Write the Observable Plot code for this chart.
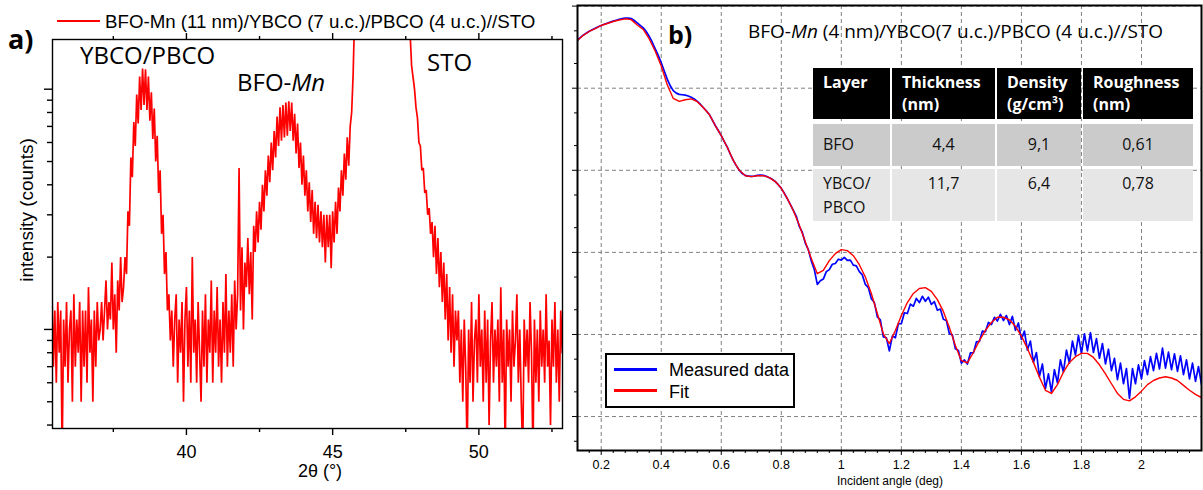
<!DOCTYPE html>
<html>
<head>
<meta charset="utf-8">
<script src="https://cdn.jsdelivr.net/npm/d3@7"></script>
<script src="https://cdn.jsdelivr.net/npm/@observablehq/plot@0.6"></script>
<style>
  html, body { margin: 0; padding: 0; background: #fff; }
  #root { position: relative; width: 1203px; height: 490px; overflow: hidden; background: #fff; }
  .t { position: absolute; white-space: nowrap; line-height: 1; color: #000; }
  .arial { font-family: "Liberation Sans", Arial, sans-serif; }
  .os { font-family: "Open Sans", sans-serif; }
  .plot { position: absolute; top: 0; }
  .cell { position: absolute; box-sizing: border-box; font-family: "Open Sans", sans-serif; font-size: 16px; white-space: nowrap; }
</style>
</head>
<body>
<div id="root"></div>
<script>
// ---------------- Panel a: XRD scan (log intensity) ----------------
const xrdStart = 35.40;   // 2θ of first sample (°)
const xrdStep = 0.05;     // 2θ sampling step (°)
const xrdCounts = [
  // 35.40 – 37.00 background
  15, 7, 12, 6, 13, 8, 12, 3, 11, 7, 13, 6, 10, 12, 5, 14, 7, 11, 8, 13, 5, 12, 7, 12, 6, 15, 8, 11, 5, 12, 7, 13, 9,
  // 37.05 – 37.85
  10, 13, 9, 12, 16, 10, 13, 11, 19, 10, 14, 8, 16, 12, 20, 13, 15,
  // 37.90 – 39.45 YBCO/PBCO peak
  20, 17, 31, 27, 52, 43, 73, 58, 95, 72, 113, 82, 122, 86, 121, 82, 113, 74, 97, 62, 83, 50, 64, 37, 46, 25, 30, 17, 21, 12, 14, 9,
  // 39.50 – 41.70 background
  12, 7, 11, 14, 6, 11, 8, 13, 5, 11, 15, 7, 12, 6, 20, 8, 11, 6, 13, 8, 5, 12, 7, 14, 6, 11, 8, 16, 6, 12, 8, 15, 7, 11, 6, 13, 8, 17, 7, 12, 8, 14, 7, 16, 10,
  // 41.75 – 41.80 spike
  14, 47,
  // 41.85 – 42.25
  12, 22, 10, 19, 15, 24, 14, 21, 11,
  // 42.30 – 45.65 BFO-Mn peak
  27, 21, 31, 23, 34, 26, 40, 31, 46, 36, 53, 41, 60, 46, 67, 52, 77, 58, 84, 61, 86, 63, 88, 64, 89, 67, 88, 61, 79, 54, 72, 47, 60, 40, 53, 36, 46, 31, 41, 28, 38, 25, 34, 24, 33, 23, 31, 22, 30, 19, 30, 22, 30, 18, 31, 23, 34, 25, 39, 31, 46, 36, 54, 42, 63, 48, 70, 80,
  // 45.70 – 47.65 STO substrate peak
  115, 200, 800, 4000, 8000, 12000, 16000, 20000, 25000, 30000, 36000, 42000, 50000, 58000, 65000, 70000, 72000, 70000, 65000, 58000, 50000, 42000, 35000, 28000, 22000, 17000, 13000, 10000, 7500, 5500, 4000, 2800, 1900, 1300, 900, 600, 420, 300, 230, 170,
  // 47.70 – 49.25 STO tail
  125, 112, 100, 84, 76, 60, 58, 46, 47, 37, 38, 30, 32, 25, 28, 20, 27, 17, 24, 15, 21, 13, 19, 11, 17, 9, 15, 8, 14, 7, 12, 9,
  // 49.30 – 52.85 background
  12, 6, 10, 5, 11, 7, 3, 10, 6, 13, 5, 9, 11, 6, 14, 7, 10, 5, 12, 6, 11, 4, 9, 13, 6, 10, 7, 11, 5, 15, 6, 10, 3, 11, 7, 10, 5, 12, 7, 9, 14, 6, 10, 5, 3, 11, 7, 10, 6, 13, 8, 3, 11, 6, 10, 5, 12, 7, 10, 6, 14, 7, 9, 4, 11, 7, 13, 6, 10, 5, 12, 8
];
const xrdXMajorTicks = [40, 45, 50];
const xrdXMinorTicks = [37.5, 42.5, 47.5, 52.5];
const xrdYMajorTicks = [10, 100];
const xrdYMinorTicks = [4, 5, 6, 7, 8, 9, 20, 30, 40, 50, 60, 70, 80, 90];
const xrdLegend = "BFO-Mn (11 nm)/YBCO (7 u.c.)/PBCO (4 u.c.)//STO";
const xrdXTitle = "2θ (°)";
const xrdYTitle = "intensity (counts)";
const xrdPeakLabels = ["YBCO/PBCO", "BFO-", "Mn", "STO"];

// ---------------- Panel b: X-ray reflectivity ----------------
const xrrStart = 0.12;       // incident angle of first sample (deg)
const measuredStep = 0.01;
const fitStep = 0.02;
const measuredR = [
  3.81e-1, 4.12e-1, 4.42e-1, 4.68e-1, 4.93e-1, 5.15e-1, 5.37e-1, 5.60e-1, 5.81e-1, 6.00e-1,
  6.19e-1, 6.38e-1, 6.56e-1, 6.73e-1, 6.89e-1, 7.03e-1, 7.13e-1, 7.16e-1, 7.05e-1, 6.68e-1,
  6.24e-1, 5.82e-1, 5.43e-1, 4.90e-1, 4.27e-1, 3.63e-1, 3.02e-1, 2.51e-1, 2.04e-1, 1.62e-1,
  1.29e-1, 1.07e-1, 9.33e-2, 8.71e-2, 8.41e-2, 8.32e-2, 8.22e-2, 8.04e-2, 7.76e-2, 7.41e-2,
  6.92e-2, 6.38e-2, 5.82e-2, 5.31e-2, 4.79e-2, 4.12e-2, 3.51e-2, 3.05e-2, 2.64e-2, 2.24e-2,
  1.91e-2, 1.58e-2, 1.32e-2, 1.14e-2, 1.00e-2, 9.12e-3, 8.67e-3, 8.47e-3, 8.41e-3, 8.51e-3,
  8.67e-3, 8.75e-3, 8.67e-3, 8.47e-3, 8.13e-3, 7.76e-3, 7.29e-3, 6.68e-3, 6.03e-3, 5.25e-3,
  4.52e-3, 3.85e-3, 3.24e-3, 2.75e-3, 2.07e-3, 1.75e-3, 1.30e-3, 1.08e-3, 7.85e-4, 6.17e-4,
  4.07e-4, 4.52e-4, 4.73e-4, 5.82e-4, 6.17e-4, 7.16e-4, 7.33e-4, 8.26e-4, 8.04e-4, 8.71e-4,
  8.00e-4, 8.04e-4, 7.00e-4, 6.84e-4, 5.82e-4, 5.31e-4, 4.07e-4, 3.72e-4, 2.72e-4, 2.45e-4,
  1.64e-4, 1.51e-4, 9.33e-5, 9.12e-5, 6.31e-5, 9.55e-5, 9.12e-5, 1.35e-4, 1.35e-4, 1.84e-4,
  1.80e-4, 2.34e-4, 2.21e-4, 2.75e-4, 2.45e-4, 2.92e-4, 2.54e-4, 2.85e-4, 2.32e-4, 2.51e-4,
  1.97e-4, 2.04e-4, 1.53e-4, 1.48e-4, 1.02e-4, 9.89e-5, 6.68e-5, 6.38e-5, 4.47e-5, 4.90e-5,
  4.37e-5, 5.96e-5, 5.96e-5, 8.13e-5, 8.22e-5, 1.10e-4, 1.08e-4, 1.40e-4, 1.32e-4, 1.62e-4,
  1.46e-4, 1.76e-4, 1.48e-4, 1.70e-4, 1.32e-4, 1.66e-4, 1.12e-4, 1.38e-4, 8.71e-5, 1.10e-4,
  6.46e-5, 8.32e-5, 4.57e-5, 6.03e-5, 3.09e-5, 4.37e-5, 2.19e-5, 3.31e-5, 2.00e-5, 3.72e-5,
  2.57e-5, 4.90e-5, 3.47e-5, 6.46e-5, 4.47e-5, 8.32e-5, 5.62e-5, 9.77e-5, 5.89e-5, 1.02e-4,
  6.31e-5, 1.05e-4, 6.03e-5, 8.91e-5, 5.13e-5, 7.76e-5, 4.37e-5, 6.61e-5, 3.63e-5, 5.13e-5,
  2.82e-5, 4.47e-5, 2.51e-5, 3.85e-5, 1.66e-5, 3.85e-5, 2.51e-5, 4.27e-5, 2.88e-5, 4.79e-5,
  3.24e-5, 5.37e-5, 3.63e-5, 5.89e-5, 3.80e-5, 6.84e-5, 3.89e-5, 6.10e-5, 3.72e-5, 5.82e-5,
  3.55e-5, 5.50e-5, 3.24e-5, 4.90e-5, 2.88e-5, 4.47e-5, 2.69e-5, 4.07e-5, 2.45e-5
];
const fitR = [
  3.81e-1, 4.39e-1, 4.91e-1, 5.33e-1, 5.81e-1, 6.14e-1, 6.49e-1, 6.78e-1, 7.00e-1, 6.84e-1,
  5.89e-1, 5.19e-1, 3.98e-1, 2.82e-1, 1.86e-1, 1.10e-1, 7.50e-2, 6.92e-2, 7.24e-2, 7.41e-2,
  6.84e-2, 5.82e-2, 4.79e-2, 3.51e-2, 2.64e-2, 1.91e-2, 1.32e-2, 1.00e-2, 8.59e-3, 8.38e-3,
  8.59e-3, 8.59e-3, 8.13e-3, 7.29e-3, 6.03e-3, 4.52e-3, 3.24e-3, 2.14e-3, 1.35e-3, 8.41e-4,
  5.50e-4, 6.03e-4, 7.94e-4, 9.66e-4, 1.08e-3, 1.05e-3, 9.12e-4, 7.08e-4, 5.01e-4, 3.16e-4,
  1.80e-4, 1.02e-4, 7.76e-5, 1.12e-4, 1.70e-4, 2.45e-4, 3.16e-4, 3.63e-4, 3.72e-4, 3.35e-4,
  2.66e-4, 1.91e-4, 1.22e-4, 7.33e-5, 4.79e-5, 4.52e-5, 6.03e-5, 8.41e-5, 1.12e-4, 1.40e-4,
  1.62e-4, 1.62e-4, 1.51e-4, 1.26e-4, 9.55e-5, 6.76e-5, 4.57e-5, 3.02e-5, 2.09e-5, 1.91e-5,
  2.45e-5, 3.47e-5, 4.57e-5, 5.37e-5, 5.89e-5, 5.89e-5, 5.25e-5, 4.27e-5, 3.31e-5, 2.51e-5,
  1.91e-5, 1.62e-5, 1.55e-5, 1.74e-5, 2.04e-5, 2.45e-5, 2.75e-5, 2.95e-5, 3.05e-5, 2.95e-5,
  2.75e-5, 2.40e-5, 2.09e-5, 1.86e-5, 1.70e-5
];
const xrrXTicks = [0.2, 0.4, 0.6, 0.8, 1, 1.2, 1.4, 1.6, 1.8, 2];
const xrrXMinorTicks = [0.16, 0.24, 0.28, 0.32, 0.36, 0.44, 0.48, 0.52, 0.56, 0.64, 0.68, 0.72, 0.76, 0.84, 0.88, 0.92, 0.96,
  1.04, 1.08, 1.12, 1.16, 1.24, 1.28, 1.32, 1.36, 1.44, 1.48, 1.52, 1.56, 1.64, 1.68, 1.72, 1.76, 1.84, 1.88, 1.92, 1.96, 2.04, 2.08, 2.12, 2.16];
const xrrYDecades = [1e-5, 1e-4, 1e-3, 1e-2, 1e-1, 1];
const xrrYMinorTicks = [5e-6, 2e-5, 5e-5, 2e-4, 5e-4, 2e-3, 5e-3, 2e-2, 5e-2, 2e-1, 5e-1];
const xrrXTitle = "Incident angle (deg)";
const xrrSeries = ["Measured data", "Fit"];
const xrrSeriesColors = ["#0000ff", "#ff0000"];
const xrrTitleParts = ["BFO-", "Mn", " (4 nm)/YBCO(7 u.c.)/PBCO (4 u.c.)//STO"];
const tableHeader = [["Layer"], ["Thickness", "(nm)"], ["Density", "(g/cm³)"], ["Roughness", "(nm)"]];
const tableRows = [
  [["BFO"], ["4,4"], ["9,1"], ["0,61"]],
  [["YBCO/", "PBCO"], ["11,7"], ["6,4"], ["0,78"]]
];

// ---------------- build ----------------
const root = document.getElementById("root");
function addText(html, cls, css) {
  const d = document.createElement("div");
  d.className = "t " + cls;
  d.innerHTML = html;
  Object.assign(d.style, css);
  root.appendChild(d);
  return d;
}

const xrd = xrdCounts.map((c, i) => ({t: xrdStart + i * xrdStep, c}));
const blank = () => "";

const plotA = Plot.plot({
  width: 565, height: 490,
  marginLeft: 52, marginRight: 3, marginTop: 39, marginBottom: 62,
  x: {domain: [35.42, 52.86]},
  y: {type: "log", domain: [3.87, 161]},
  style: {fontFamily: "'Liberation Sans', Arial, sans-serif", fontSize: "18px", color: "#000", background: "transparent"},
  marks: [
    Plot.line(xrd, {x: "t", y: "c", stroke: "#ff0000", strokeWidth: 1.7, strokeLinejoin: "miter", clip: true}),
    Plot.frame({stroke: "#000", strokeWidth: 1.4}),
    Plot.axisX({ticks: xrdXMajorTicks, tickSize: 7, tickPadding: 10, fontSize: 18, label: null, strokeWidth: 1.4}),
    Plot.axisX({ticks: xrdXMinorTicks, tickSize: 4, tickFormat: blank, label: null, strokeWidth: 1.4}),
    Plot.axisX({anchor: "top", ticks: xrdXMajorTicks, tickSize: 7, tickFormat: blank, label: null, strokeWidth: 1.4}),
    Plot.axisX({anchor: "top", ticks: xrdXMinorTicks, tickSize: 4, tickFormat: blank, label: null, strokeWidth: 1.4}),
    Plot.axisY({ticks: xrdYMajorTicks, tickSize: 8, tickFormat: blank, label: null, strokeWidth: 1.4}),
    Plot.axisY({ticks: xrdYMinorTicks, tickSize: 5, tickFormat: blank, label: null, strokeWidth: 1.4})
  ]
});
plotA.classList.add("plot");
plotA.style.left = "0px";
root.appendChild(plotA);

const meas = measuredR.map((r, i) => ({a: xrrStart + i * measuredStep, r}));
const fit = fitR.map((r, i) => ({a: xrrStart + i * fitStep, r}));

const plotB = Plot.plot({
  width: 638, height: 490,
  marginLeft: 12, marginRight: 2, marginTop: 5, marginBottom: 40,
  x: {domain: [0.121, 2.2]},
  y: {type: "log", domain: [3.86e-6, 1.017]},
  style: {fontFamily: "'Liberation Sans', Arial, sans-serif", fontSize: "12.5px", color: "#000", background: "transparent"},
  marks: [
    Plot.ruleX(xrrXTicks, {stroke: "#808080", strokeDasharray: "4,3", strokeWidth: 1}),
    Plot.ruleY(xrrYDecades, {stroke: "#808080", strokeDasharray: "4,3", strokeWidth: 1}),
    Plot.line(meas, {x: "a", y: "r", stroke: xrrSeriesColors[0], strokeWidth: 1.7, clip: true}),
    Plot.line(fit, {x: "a", y: "r", stroke: xrrSeriesColors[1], strokeWidth: 1.4, clip: true}),
    Plot.frame({stroke: "#000", strokeWidth: 2}),
    Plot.axisX({ticks: xrrXTicks, tickSize: 5, tickPadding: 5, fontSize: 12.5, tickFormat: d => String(d), label: null}),
    Plot.axisX({ticks: xrrXMinorTicks, tickSize: 3, tickFormat: blank, label: null}),
    Plot.axisY({ticks: xrrYDecades, tickSize: 5, tickFormat: blank, label: null}),
    Plot.axisY({ticks: xrrYMinorTicks, tickSize: 3, tickFormat: blank, label: null})
  ]
});
plotB.classList.add("plot");
plotB.style.left = "565px";
root.appendChild(plotB);

// ---- panel a texts ----
addText("a)", "os", {left: "8px", top: "25px", fontSize: "27px", fontWeight: "700"});
const swA = document.createElement("div");
Object.assign(swA.style, {position: "absolute", left: "57px", top: "20px", width: "43px", height: "1.5px", background: "#ff0000"});
root.appendChild(swA);
addText(xrdLegend, "arial", {left: "105px", top: "12.8px", fontSize: "18.7px"});
addText(xrdPeakLabels[0], "os", {left: "80px", top: "43px", fontSize: "24px"});
addText(xrdPeakLabels[1] + "<i>" + xrdPeakLabels[2] + "</i>", "os", {left: "237px", top: "70px", fontSize: "24px"});
addText(xrdPeakLabels[3], "os", {left: "427px", top: "50px", fontSize: "24px"});
addText(xrdXTitle, "arial", {left: "320px", top: "461.5px", fontSize: "18px", transform: "translateX(-50%)"});
addText(xrdYTitle, "arial", {left: "26px", top: "210px", fontSize: "19px", transform: "translate(-50%,-50%) rotate(-90deg)"});

// ---- panel b texts ----
addText("b)", "os", {left: "668px", top: "22px", fontSize: "25px", fontWeight: "700"});
addText(xrrTitleParts[0] + "<i>" + xrrTitleParts[1] + "</i>" + xrrTitleParts[2], "os", {left: "748px", top: "21.5px", fontSize: "19px"});
addText(xrrXTitle, "arial", {left: "890px", top: "474.5px", fontSize: "12px", transform: "translateX(-50%)"});

// legend box
const lg = document.createElement("div");
Object.assign(lg.style, {position: "absolute", left: "605px", top: "353px", width: "190px", height: "55px", border: "2px solid #000", boxSizing: "border-box", background: "#fff"});
root.appendChild(lg);
[[369.5, 361.3], [390.5, 382.8]].forEach(([ly, ty], i) => {
  const s = document.createElement("div");
  Object.assign(s.style, {position: "absolute", left: "614px", top: (ly - 1.5) + "px", width: "43px", height: "3px", background: xrrSeriesColors[i]});
  root.appendChild(s);
  addText(xrrSeries[i], "arial", {left: "669px", top: ty + "px", fontSize: "18px"});
});

// table
const colX = [813, 892, 997, 1083], colW = [77, 103, 84, 110];
const rowY = [68, 124, 169], rowH = [51, 42, 52], rowPad = [3, 8, 2];
const rowBg = ["#000000", "#cbcbcb", "#e6e6e6"];
[tableHeader, ...tableRows].forEach((row, r) => {
  row.forEach((lines, c) => {
    const d = document.createElement("div");
    d.className = "cell";
    const head = r === 0;
    Object.assign(d.style, {
      left: colX[c] + "px", top: rowY[r] + "px", width: colW[c] + "px", height: rowH[r] + "px",
      background: rowBg[r], color: head ? "#fff" : "#111", fontWeight: head ? "700" : "400",
      paddingTop: rowPad[r] + "px", paddingLeft: (head || c === 0) ? "10px" : "0",
      textAlign: (head || c === 0) ? "left" : "center", lineHeight: head ? "22px" : "24px"
    });
    d.innerHTML = lines.join("<br>");
    root.appendChild(d);
  });
});
</script>
</body>
</html>
